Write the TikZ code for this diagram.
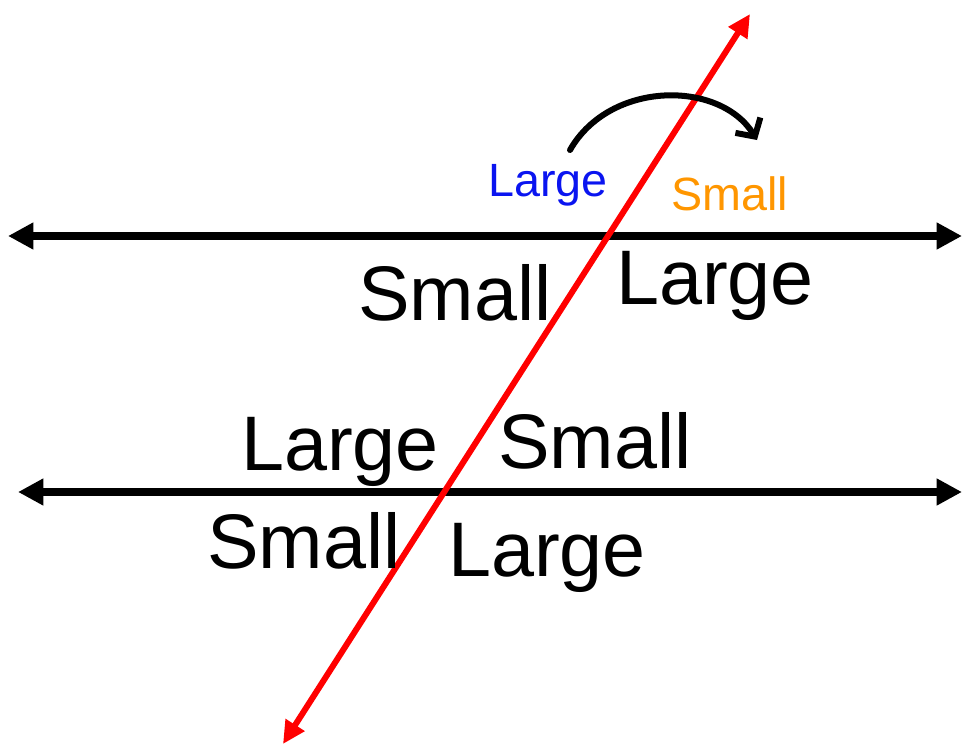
\documentclass[tikz,border=0pt]{standalone}
\usepackage{fontspec}
\setmainfont{Liberation Sans}
\usetikzlibrary{arrows.meta}
\definecolor{lblue}{RGB}{10,20,240}
\definecolor{lorange}{RGB}{255,150,0}
\begin{document}
\begin{tikzpicture}[x=0.75pt,y=-0.75pt,
  hline/.style={line width=5.5pt,{Triangle[length=19pt,width=19pt]}-{Triangle[length=19pt,width=19pt]}},
  transv/.style={red,line width=4.5pt,{Triangle[length=17pt,width=16pt]}-{Triangle[length=17pt,width=16pt]}},
  big/.style={font=\fontsize{58}{62}\selectfont,anchor=base,inner sep=0pt},
  small/.style={font=\fontsize{35}{40}\selectfont,anchor=base,inner sep=0pt},
  turn/.style={line width=4.5pt,line cap=round,-{Straight Barb[length=10pt,width=22pt,line width=4.5pt]}}]
\useasboundingbox (0,0) rectangle (964,746);
\coordinate (a1) at (8,236);
\coordinate (a2) at (962,236);
\coordinate (b1) at (18,492);
\coordinate (b2) at (962,492);
\coordinate (t1) at (283,744);
\coordinate (t2) at (750,14);
\draw[hline] (a1) -- (a2);
\draw[hline] (b1) -- (b2);
\draw[transv] (t1) -- (t2);
\node[small,text=lblue] (lg0) at (548,196) {Large};
\node[small,text=lorange] (sm0) at (730,210) {Small};
\coordinate (c1) at (570,150);
\coordinate (c2) at (757,140);
\draw[turn] (c1) .. controls (610,80) and (720,80) .. (c2);
\node[big] (s1) at (455,320) {Small};
\node[big] (l1) at (715,304) {Large};
\node[big] (l2) at (340,470) {Large};
\node[big] (s2) at (595,468) {Small};
\node[big] (s3) at (304,568) {Small};
\node[big] (l3) at (547,576) {Large};
\end{tikzpicture}
\end{document}
